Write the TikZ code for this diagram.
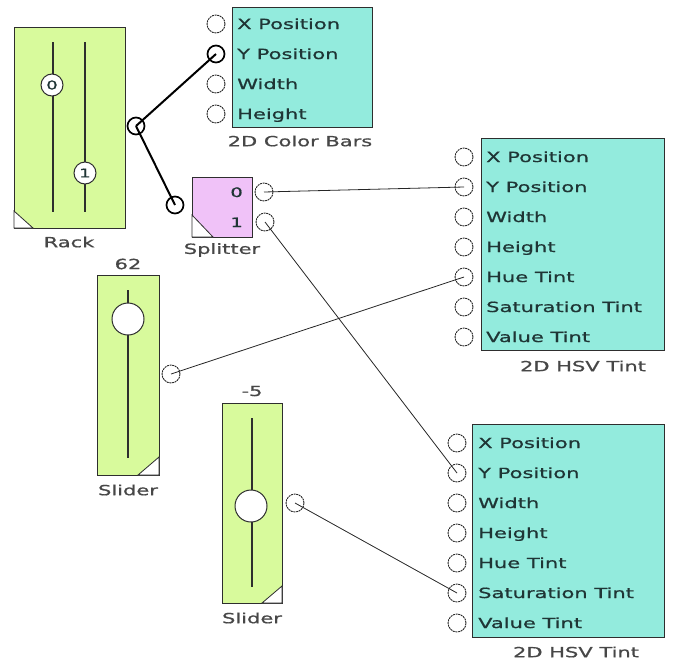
\documentclass[tikz,border=0pt]{standalone}
\usepackage{fontspec}
\setmainfont{DejaVu Sans}[FakeStretch=1.5,FakeBold=0.8]
\definecolor{modgreen}{HTML}{D8FA9C}
\definecolor{modteal}{HTML}{93EBDD}
\definecolor{modpink}{HTML}{F0C2F8}
\definecolor{edgec}{HTML}{2E2E2E}
\definecolor{labc}{HTML}{474747}
\definecolor{inc}{HTML}{1F3535}
\tikzset{
  modbox/.style={draw=edgec, line width=1.3pt, inner sep=0, anchor=north west},
  corner/.style={draw=edgec, fill=white, line width=0.8pt},
  track/.style={draw=edgec, line width=1.3pt},
  port/.style={circle, draw=black!85, fill=white, line width=0.9pt, dash pattern=on 2pt off 0.7pt, minimum size=18pt, inner sep=0},
  boldport/.style={port, solid, line width=1.7pt, draw=black, minimum size=17pt},
  knob/.style={circle, draw=edgec, fill=white, line width=1pt, minimum size=22pt, inner sep=0, font=\fontsize{12}{12}\selectfont, text=inc},
  bigknob/.style={circle, draw=edgec, fill=white, line width=1pt, minimum size=32pt, inner sep=0},
  inlab/.style={anchor=base west, inner sep=0, font=\fontsize{14}{14}\selectfont, text=inc},
  digit/.style={anchor=base east, inner sep=0, font=\fontsize{13}{13}\selectfont, text=inc},
  caption/.style={inner sep=0, font=\fontsize{14}{14}\selectfont, text=labc},
  wire/.style={draw=black!85, line width=0.8pt},
  thickwire/.style={draw=black, line width=2pt},
}
\begin{document}
\begin{tikzpicture}[x=1pt,y=-1pt]
\useasboundingbox (0,0) rectangle (676,664);

% ---------- Rack ----------
\node[modbox, fill=modgreen, minimum width=111pt, minimum height=201pt] (rack) at (14,27) {};
\draw[corner] (14,211) -- (33,228) -- (14,228) -- cycle;
\coordinate (rt0) at (53,42); \coordinate (rb0) at (53,212);
\coordinate (rt1) at (85,42); \coordinate (rb1) at (85,212);
\draw[track] (rt0) -- (rb0);
\draw[track] (rt1) -- (rb1);
\node[knob] (k0) at (52,85) {0};
\node[knob] (k1) at (85,173) {1};
\node[caption] (racklab) at (69,242) {Rack};
\node[boldport] (rackout) at (136,126) {};

% ---------- 2D Color Bars ----------
\node[modbox, fill=modteal, minimum width=140pt, minimum height=120pt] (cb) at (232,7) {};
\node[port] (cbX) at (216,24) {};
\node[boldport] (cbY) at (216,54) {};
\node[port] (cbW) at (216,84) {};
\node[port] (cbH) at (216,114) {};
\node[inlab] (cbXl) at (237,29) {X Position};
\node[inlab] (cbYl) at (237,59) {Y Position};
\node[inlab] (cbWl) at (237,89) {Width};
\node[inlab] (cbHl) at (237,119) {Height};
\node[caption] (cblab) at (300,141) {2D Color Bars};

% ---------- Splitter ----------
\node[modbox, fill=modpink, minimum width=60pt, minimum height=60pt] (sp) at (192,177) {};
\draw[corner] (192,215) -- (213,237) -- (192,237) -- cycle;
\node[digit] (sp0l) at (243,197) {0};
\node[digit] (sp1l) at (243,227) {1};
\node[boldport] (spin) at (175,205) {};
\node[port] (spo0) at (264,192) {};
\node[port] (spo1) at (265,222) {};
\node[caption] (splab) at (222,250) {Splitter};

% ---------- Slider 1 ----------
\node[modbox, fill=modgreen, minimum width=62pt, minimum height=200pt] (sl1) at (97,275) {};
\draw[corner] (138,475) -- (159,457) -- (159,475) -- cycle;
\coordinate (s1t) at (128,290); \coordinate (s1b) at (128,458);
\draw[track] (s1t) -- (s1b);
\node[bigknob] (s1k) at (128,319) {};
\node[caption] (s1val) at (128,264) {62};
\node[caption] (s1lab) at (128,490) {Slider};
\node[port] (s1out) at (171,374) {};

% ---------- Slider 2 ----------
\node[modbox, fill=modgreen, minimum width=60pt, minimum height=200pt] (sl2) at (222,403) {};
\draw[corner] (262,603) -- (282,586) -- (282,603) -- cycle;
\coordinate (s2t) at (252,418); \coordinate (s2b) at (252,587);
\draw[track] (s2t) -- (s2b);
\node[bigknob] (s2k) at (251,506) {};
\node[caption] (s2val) at (252,391) {-5};
\node[caption] (s2lab) at (252,618) {Slider};
\node[port] (s2out) at (295,503) {};

% ---------- 2D HSV Tint 1 ----------
\node[modbox, fill=modteal, minimum width=183pt, minimum height=212pt] (h1) at (481,138) {};
\foreach \i/\t in {0/X Position,1/Y Position,2/Width,3/Height,4/Hue Tint,5/Saturation Tint,6/Value Tint}{
  \node[port] (h1p\i) at (464,157+30*\i) {};
  \node[inlab] (h1l\i) at (486,162+30*\i) {\t};
}
\node[caption] (h1lab) at (583,366) {2D HSV Tint};

% ---------- 2D HSV Tint 2 ----------
\node[modbox, fill=modteal, minimum width=192pt, minimum height=213pt] (h2) at (472,424) {};
\foreach \i/\t in {0/X Position,1/Y Position,2/Width,3/Height,4/Hue Tint,5/Saturation Tint,6/Value Tint}{
  \node[port] (h2p\i) at (457,443+30*\i) {};
  \node[inlab] (h2l\i) at (478,448+30*\i) {\t};
}
\node[caption] (h2lab) at (576,652) {2D HSV Tint};

% ---------- Wires ----------
\draw[thickwire] (rackout.center) -- (cbY.center);
\draw[thickwire] (rackout.center) -- (spin.center);
\draw[wire] (spo0.center) -- (h1p1.center);
\draw[wire] (spo1.center) -- (h2p1.center);
\draw[wire] (s1out.center) -- (h1p4.center);
\draw[wire] (s2out.center) -- (h2p5.center);
\end{tikzpicture}
\end{document}
